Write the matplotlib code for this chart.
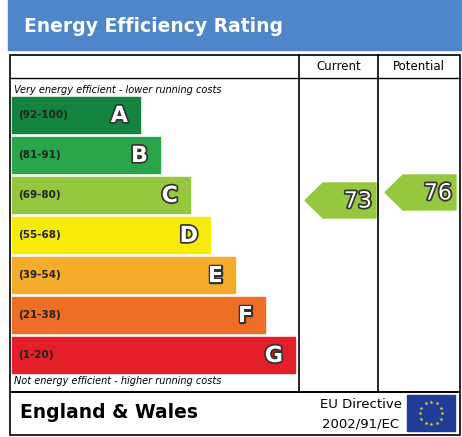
import matplotlib
matplotlib.use("Agg")
import matplotlib.pyplot as plt
import matplotlib.patheffects as pe
from matplotlib.patches import Rectangle, Polygon
import numpy as np

letters = ["A", "B", "C", "D", "E", "F", "G"]
ranges = ["(92-100)", "(81-91)", "(69-80)", "(55-68)", "(39-54)", "(21-38)", "(1-20)"]
colors = ["#12843e", "#2aa64a", "#95c83f", "#f7eb0c", "#f4ac2a", "#ee6e26", "#e51f2a"]
bar_right = [140, 160, 190, 210, 235, 265, 295]
current = 73
potential = 76


def band_of(v):
    lows = [92, 81, 69, 55, 39, 21, 1]
    for i, lo in enumerate(lows):
        if v >= lo:
            return i
    return 6


def main():
    fig = plt.figure(figsize=(4.62, 4.37), dpi=100)
    ax = fig.add_axes([0, 0, 1, 1])
    ax.set_xlim(0, 462)
    ax.set_ylim(437, 0)
    ax.axis("off")

    # title bar
    ax.add_patch(Rectangle((8, 0), 454, 50, color="#4f86c9"))
    ax.text(24, 26, "Energy Efficiency Rating", color="white", fontsize=13.5,
            fontweight="bold", va="center")

    # frames
    ax.add_patch(Rectangle((10, 55), 450, 337, fill=False, lw=1.2, ec="black"))
    ax.plot([10, 460], [78, 78], color="black", lw=1)
    ax.plot([299, 299], [55, 392], color="black", lw=1.2)
    ax.plot([378, 378], [55, 392], color="black", lw=1.2)
    ax.text(339, 67, "Current", fontsize=8.5, ha="center", va="center")
    ax.text(419, 67, "Potential", fontsize=8.5, ha="center", va="center")

    ax.text(14, 90, "Very energy efficient - lower running costs", fontsize=7,
            style="italic", va="center")
    ax.text(14, 381, "Not energy efficient - higher running costs", fontsize=7,
            style="italic", va="center")

    stroke = [pe.withStroke(linewidth=2.5, foreground="#333333")]
    for i, (let, rng, col, right) in enumerate(zip(letters, ranges, colors, bar_right)):
        top = 97 + i * 40
        ax.add_patch(Rectangle((12, top), right - 12, 36, color=col))
        ax.text(18, top + 18, rng, fontsize=7.5, fontweight="bold",
                color="#222222", va="center")
        ax.text(right - 12, top + 19, let, fontsize=16, fontweight="bold",
                color="white", ha="right", va="center", path_effects=stroke)

    # arrows
    for val, x0, x1, dy in [(current, 305, 376, 6), (potential, 385, 456, -2)]:
        b = band_of(val)
        top = 97 + b * 40 + dy
        h = 35
        poly = Polygon([(x0, top + h / 2), (x0 + 18, top), (x1, top), (x1, top + h),
                        (x0 + 18, top + h)], color=colors[b])
        ax.add_patch(poly)
        ax.text(x1 - 4, top + h / 2 + 1, str(val), fontsize=16, color="white",
                ha="right", va="center", path_effects=stroke)

    # footer
    ax.add_patch(Rectangle((10, 392), 450, 43, fill=False, lw=1.2, ec="black"))
    ax.text(20, 413, "England & Wales", fontsize=13.5, fontweight="bold", va="center")
    ax.text(361, 404, "EU Directive", fontsize=9.5, ha="center", va="center")
    ax.text(361, 424, "2002/91/EC", fontsize=9.5, ha="center", va="center")
    ax.add_patch(Rectangle((407, 395), 48, 36, color="#1f3c99"))
    ang = np.linspace(0, 2 * np.pi, 13)[:-1]
    ax.scatter(431 + 11 * np.cos(ang), 413 + 11 * np.sin(ang), marker="*", s=9,
               color="#ffdd00", lw=0)

    fig.savefig("out.png", dpi=100)


main()
